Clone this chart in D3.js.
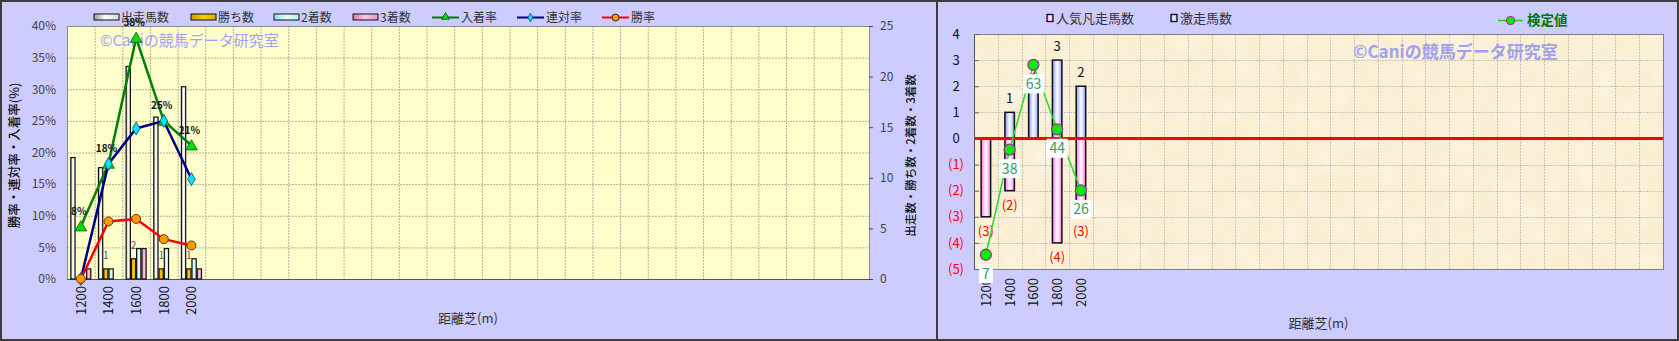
<!DOCTYPE html>
<html lang="ja">
<head>
<meta charset="UTF-8" />
<title>距離別成績</title>
<script src="https://cdnjs.cloudflare.com/ajax/libs/d3/7.8.5/d3.min.js"></script>
<style>
  body { margin: 0; background: #ccccff; }
  svg { display: block; font-family: "Noto Sans CJK JP", sans-serif; }
</style>
</head>
<body>
<svg id="svg"></svg>
<script>
  // ---- data (left chart) ----
  const distances = ["1200", "1400", "1600", "1800", "2000"];
  const slotCount = 29;

  const runners = [12, 11, 21, 16, 19];   // 出走馬数
  const wins = [0, 1, 2, 1, 1];           // 勝ち数
  const seconds = [0, 1, 3, 3, 2];        // 2着数
  const thirds = [1, 0, 3, 0, 1];         // 3着数

  const placeRate = [8.3, 18.2, 38.1, 25.0, 21.1];    // 入着率
  const quinellaRate = [0, 18.2, 23.8, 25.0, 15.8];   // 連対率
  const winRate = [0, 9.1, 9.5, 6.3, 5.3];            // 勝率
  const placeLabels = ["8%", "18%", "38%", "25%", "21%"];

  const pctTicks = [0, 5, 10, 15, 20, 25, 30, 35, 40];
  const countTicks = [0, 5, 10, 15, 20, 25];

  // ---- data (right chart) ----
  const upsetCounts = [0, 1, 2, 3, 2];      // 激走馬数
  const flopCounts = [3, 2, 0, 4, 3];       // 人気凡走馬数
  const testValues = [7, 38, 63, 44, 26];   // 検定値
  const rightTicks = [-5, -4, -3, -2, -1, 0, 1, 2, 3, 4];

  const W = 1679, H = 341;
  const svg = d3.select("#svg").attr("width", W).attr("height", H);
  const defs = svg.append("defs");

  function hGrad(id, stops) {
    const g = defs.append("linearGradient").attr("id", id)
      .attr("x1", "0%").attr("x2", "100%").attr("y1", "0%").attr("y2", "0%");
    stops.forEach(s => g.append("stop").attr("offset", s[0]).attr("stop-color", s[1]));
  }
  hGrad("gWhite", [["0%", "#9a9a9a"], ["45%", "#ffffff"], ["100%", "#d8d8d8"]]);
  hGrad("gGold", [["0%", "#c99a00"], ["50%", "#ffcc00"], ["100%", "#d9a800"]]);
  hGrad("gCyan", [["0%", "#9adede"], ["50%", "#e6ffff"], ["100%", "#b8eeee"]]);
  hGrad("gPink", [["0%", "#e070b0"], ["50%", "#ffc8e6"], ["100%", "#e890c4"]]);
  hGrad("gBlue", [["0%", "#7f97ff"], ["50%", "#ffffff"], ["100%", "#8ea6ff"]]);
  hGrad("gMag", [["0%", "#ff70f0"], ["50%", "#ffffff"], ["100%", "#ff80f0"]]);

  const paper = defs.append("filter").attr("id", "paper")
    .attr("x", 0).attr("y", 0).attr("width", "100%").attr("height", "100%");
  paper.append("feTurbulence").attr("type", "fractalNoise")
    .attr("baseFrequency", "0.04").attr("numOctaves", 3).attr("seed", 4);
  paper.append("feColorMatrix").attr("type", "matrix")
    .attr("values", "0 0 0 0 1  0 0 0 0 1  0 0 0 0 1  1.2 0 0 0 -0.5");
  paper.append("feComposite").attr("in2", "SourceGraphic").attr("operator", "in");

  // page background
  svg.append("rect").attr("width", W).attr("height", H).attr("fill", "#ccccff");

  // ================= LEFT CHART =================
  const L = { left: 67, right: 869, top: 26, bottom: 279 };
  const slots = d3.range(slotCount);
  const x0 = d3.scaleBand().domain(slots).range([L.left, L.right]);
  const bw = x0.bandwidth();
  const keys = ["runners", "wins", "seconds", "thirds"];
  const series = { runners, wins, seconds, thirds };
  const fills = { runners: "url(#gWhite)", wins: "url(#gGold)", seconds: "url(#gCyan)", thirds: "url(#gPink)" };
  const x1 = d3.scaleBand().domain(keys).range([0, bw]).paddingOuter(0.63);
  const yPct = d3.scaleLinear().domain([0, 40]).range([L.bottom, L.top]);
  const yCnt = d3.scaleLinear().domain([0, 25]).range([L.bottom, L.top]);

  const left = svg.append("g");
  left.append("rect")
    .attr("x", L.left).attr("y", L.top)
    .attr("width", L.right - L.left).attr("height", L.bottom - L.top)
    .attr("fill", "#ffffcc");

  left.append("g").selectAll("line").data(pctTicks.slice(1)).join("line")
    .attr("x1", L.left).attr("x2", L.right)
    .attr("y1", d => yPct(d) + 0.5).attr("y2", d => yPct(d) + 0.5)
    .attr("stroke", "#b0b0a0").attr("stroke-dasharray", "2,1");
  left.append("g").selectAll("line").data(slots.slice(1)).join("line")
    .attr("x1", d => x0(d) + 0.5).attr("x2", d => x0(d) + 0.5)
    .attr("y1", L.top).attr("y2", L.bottom)
    .attr("stroke", "#b0b0a0").attr("stroke-dasharray", "2,1");

  left.append("rect")
    .attr("x", L.left + 0.5).attr("y", L.top + 0.5)
    .attr("width", L.right - L.left).attr("height", L.bottom - L.top)
    .attr("fill", "none").attr("stroke", "#8c8c8c");
  left.append("line")
    .attr("x1", L.left).attr("x2", L.right).attr("y1", L.bottom + 0.5).attr("y2", L.bottom + 0.5)
    .attr("stroke", "#555");

  // watermark
  left.append("text").attr("x", 100).attr("y", 46)
    .attr("font-size", 15).attr("fill", "#a0a0ff")
    .text("©Caniの競馬データ研究室");

  // bars
  const barData = [];
  distances.forEach((d, i) => keys.forEach(k => {
    if (series[k][i] > 0) barData.push({ i, k, v: series[k][i] });
  }));
  left.append("g").selectAll("rect").data(barData).join("rect")
    .attr("x", d => x0(d.i) + x1(d.k) + 0.5)
    .attr("width", x1.bandwidth() - 1)
    .attr("y", d => yCnt(d.v))
    .attr("height", d => L.bottom - yCnt(d.v))
    .attr("fill", d => fills[d.k])
    .attr("stroke", "#111").attr("stroke-width", 1.2);

  // win count labels
  left.append("g").selectAll("text").data(wins.map((v, i) => ({ v, i })).filter(d => d.v > 0)).join("text")
    .attr("x", d => x0(d.i) + x1("wins") + x1.bandwidth() / 2)
    .attr("y", d => yCnt(d.v) - 10)
    .attr("text-anchor", "middle").attr("font-size", 10).attr("fill", "#555")
    .text(d => d.v);

  // lines
  const cx = i => x0(i) + bw / 2;
  const lineGen = d3.line().x((d, i) => cx(i)).y(d => yPct(d));
  left.append("path").datum(placeRate).attr("d", lineGen)
    .attr("fill", "none").attr("stroke", "#008000").attr("stroke-width", 2.5);
  left.append("path").datum(quinellaRate).attr("d", lineGen)
    .attr("fill", "none").attr("stroke", "#000080").attr("stroke-width", 2.5);
  left.append("path").datum(winRate).attr("d", lineGen)
    .attr("fill", "none").attr("stroke", "#ff0000").attr("stroke-width", 2.5);

  const tri = d3.symbol(d3.symbolTriangle).size(60);
  const dia = d3.symbol(d3.symbolDiamond).size(50);
  left.append("g").selectAll("path").data(placeRate).join("path")
    .attr("transform", (d, i) => `translate(${cx(i)},${yPct(d) + 1})`)
    .attr("d", tri).attr("fill", "#00dd00").attr("stroke", "#115511").attr("stroke-width", 0.8);
  left.append("g").selectAll("path").data(quinellaRate).join("path")
    .attr("transform", (d, i) => `translate(${cx(i)},${yPct(d)})`)
    .attr("d", dia).attr("fill", "#00e5ff").attr("stroke", "#224466").attr("stroke-width", 0.8);
  left.append("g").selectAll("circle").data(winRate).join("circle")
    .attr("cx", (d, i) => cx(i)).attr("cy", d => yPct(d)).attr("r", 4.5)
    .attr("fill", "#ff9900").attr("stroke", "#663300").attr("stroke-width", 1);

  left.append("g").selectAll("text").data(placeRate).join("text")
    .attr("x", (d, i) => cx(i) - 2).attr("y", d => yPct(d) - 12)
    .attr("text-anchor", "middle").attr("font-size", 10).attr("font-weight", "bold")
    .attr("fill", "#111").text((d, i) => placeLabels[i]);

  // axes
  const axL = left.append("g").attr("transform", `translate(${L.left},0)`)
    .call(d3.axisLeft(yPct).tickValues(pctTicks).tickSize(0).tickPadding(11).tickFormat(d => d + "%"));
  axL.select(".domain").remove();
  axL.selectAll("text").attr("font-size", 12).attr("fill", "#444").attr("font-family", "Noto Sans CJK JP");

  const axR = left.append("g").attr("transform", `translate(${L.right},0)`)
    .call(d3.axisRight(yCnt).tickValues(countTicks).tickSize(4).tickPadding(7));
  axR.select(".domain").remove();
  axR.selectAll("line").attr("stroke", "#444");
  axR.selectAll("text").attr("font-size", 12).attr("fill", "#444").attr("font-family", "Noto Sans CJK JP");

  left.append("g").selectAll("text").data(distances).join("text")
    .attr("transform", (d, i) => `translate(${cx(i) + 5},${L.bottom + 7}) rotate(-90)`)
    .attr("text-anchor", "end").attr("font-size", 13).attr("fill", "#111")
    .text(d => d);

  left.append("text")
    .attr("transform", `translate(19,${(L.top + L.bottom) / 2 + 3}) rotate(-90)`)
    .attr("text-anchor", "middle").attr("font-size", 12.5).attr("font-weight", 500).attr("fill", "#111")
    .text("勝率・連対率・入着率(%)");
  left.append("text")
    .attr("transform", `translate(915,${(L.top + L.bottom) / 2 + 3}) rotate(-90)`)
    .attr("text-anchor", "middle").attr("font-size", 11.5).attr("font-weight", 500).attr("fill", "#111")
    .text("出走数・勝ち数・2着数・3着数");
  left.append("text")
    .attr("x", (L.left + L.right) / 2).attr("y", 323)
    .attr("text-anchor", "middle").attr("font-size", 13).attr("fill", "#333")
    .text("距離芝(m)");

  // legend
  const legBars = [
    { name: "出走馬数", fill: "url(#gWhite)", x: 94 },
    { name: "勝ち数", fill: "url(#gGold)", x: 191 },
    { name: "2着数", fill: "url(#gCyan)", x: 274 },
    { name: "3着数", fill: "url(#gPink)", x: 353 }
  ];
  const lg = left.append("g");
  lg.selectAll("rect").data(legBars).join("rect")
    .attr("x", d => d.x).attr("y", 14).attr("width", 25).attr("height", 6)
    .attr("fill", d => d.fill).attr("stroke", "#111").attr("stroke-width", 1);
  lg.selectAll("text.bl").data(legBars).join("text").attr("class", "bl")
    .attr("x", d => d.x + 27).attr("y", 21.5).attr("font-size", 12).attr("fill", "#333")
    .text(d => d.name);

  const legLines = [
    { name: "入着率", color: "#008000", x: 432, mark: "tri" },
    { name: "連対率", color: "#000080", x: 517, mark: "dia" },
    { name: "勝率", color: "#ff0000", x: 602, mark: "circle" }
  ];
  legLines.forEach(d => {
    lg.append("line").attr("x1", d.x).attr("x2", d.x + 27).attr("y1", 17.5).attr("y2", 17.5)
      .attr("stroke", d.color).attr("stroke-width", 2);
    if (d.mark === "tri") {
      lg.append("path").attr("transform", `translate(${d.x + 13.5},17)`)
        .attr("d", d3.symbol(d3.symbolTriangle).size(26)).attr("fill", "#00dd00").attr("stroke", "#114411").attr("stroke-width", 0.8);
    } else if (d.mark === "dia") {
      lg.append("path").attr("transform", `translate(${d.x + 13.5},17.5)`)
        .attr("d", d3.symbol(d3.symbolDiamond).size(22)).attr("fill", "#00e5ff").attr("stroke", "#224466").attr("stroke-width", 0.8);
    } else {
      lg.append("circle").attr("cx", d.x + 13.5).attr("cy", 17.5).attr("r", 3.5)
        .attr("fill", "#ff9900").attr("stroke", "#442200").attr("stroke-width", 1);
    }
    lg.append("text").attr("x", d.x + 29).attr("y", 21.5).attr("font-size", 12).attr("fill", "#333").text(d.name);
  });

  // ================= RIGHT CHART =================
  const R = { left: 974, right: 1663, top: 34, bottom: 269 };
  const xr = d3.scaleBand().domain(slots).range([R.left, R.right]);
  const rbw = xr.bandwidth();
  const rcx = i => xr(i) + rbw / 2;
  const yr = d3.scaleLinear().domain([-5, 4]).range([R.bottom, R.top]);
  const yTest = d3.scaleLinear().domain([2.8, 72.1]).range([R.bottom, R.top]);

  const right = svg.append("g");
  right.append("rect")
    .attr("x", R.left).attr("y", R.top).attr("width", R.right - R.left).attr("height", R.bottom - R.top)
    .attr("fill", "#faefd2");
  right.append("rect")
    .attr("x", R.left).attr("y", R.top).attr("width", R.right - R.left).attr("height", R.bottom - R.top)
    .attr("fill", "#ffffff").attr("opacity", 0.55).attr("filter", "url(#paper)");

  right.append("g").selectAll("line").data(rightTicks.filter(t => t > -5 && t < 4)).join("line")
    .attr("x1", R.left).attr("x2", R.right)
    .attr("y1", d => Math.round(yr(d)) + 0.5).attr("y2", d => Math.round(yr(d)) + 0.5)
    .attr("stroke", "#c8c4bc").attr("stroke-dasharray", "2,1");
  right.append("g").selectAll("line").data(slots.slice(1)).join("line")
    .attr("x1", d => Math.round(xr(d)) + 0.5).attr("x2", d => Math.round(xr(d)) + 0.5)
    .attr("y1", R.top).attr("y2", R.bottom)
    .attr("stroke", "#c8c4bc").attr("stroke-dasharray", "2,1");
  right.append("rect")
    .attr("x", R.left + 0.5).attr("y", R.top + 0.5).attr("width", R.right - R.left).attr("height", R.bottom - R.top)
    .attr("fill", "none").attr("stroke", "#808080");
  right.append("line").attr("x1", R.left + 0.5).attr("x2", R.left + 0.5).attr("y1", R.top).attr("y2", R.bottom)
    .attr("stroke", "#555");

  right.append("text").attr("x", 1353).attr("y", 58)
    .attr("font-size", 17).attr("font-weight", "bold").attr("fill", "#a0a0f0")
    .text("©Caniの競馬データ研究室");

  // bars
  const rBarW = 9.5;
  right.append("g").selectAll("rect").data(flopCounts.map((v, i) => ({ v, i })).filter(d => d.v > 0)).join("rect")
    .attr("x", d => rcx(d.i) - rBarW / 2).attr("width", rBarW)
    .attr("y", yr(0)).attr("height", d => yr(-d.v) - yr(0))
    .attr("fill", "url(#gMag)").attr("stroke", "#111").attr("stroke-width", 1.5);
  right.append("g").selectAll("rect").data(upsetCounts.map((v, i) => ({ v, i })).filter(d => d.v > 0)).join("rect")
    .attr("x", d => rcx(d.i) - rBarW / 2).attr("width", rBarW)
    .attr("y", d => yr(d.v)).attr("height", d => yr(0) - yr(d.v))
    .attr("fill", "url(#gBlue)").attr("stroke", "#111").attr("stroke-width", 1.5);

  right.append("g").selectAll("text").data(upsetCounts.map((v, i) => ({ v, i })).filter(d => d.v > 0)).join("text")
    .attr("x", d => rcx(d.i)).attr("y", d => yr(d.v) - 9)
    .attr("text-anchor", "middle").attr("font-size", 13).attr("fill", "#111")
    .text(d => d.v);
  right.append("g").selectAll("text").data(flopCounts.map((v, i) => ({ v, i })).filter(d => d.v > 0)).join("text")
    .attr("x", d => rcx(d.i)).attr("y", d => yr(-d.v) + 19)
    .attr("text-anchor", "middle").attr("font-size", 13).attr("fill", "#ff0000")
    .text(d => `(${d.v})`);

  // zero line
  right.append("line").attr("x1", R.left).attr("x2", R.right).attr("y1", yr(0)).attr("y2", yr(0))
    .attr("stroke", "#ff0000").attr("stroke-width", 3);

  // x labels (drawn before test labels so boxes can cover them)
  right.append("g").selectAll("text").data(distances).join("text")
    .attr("transform", (d, i) => `translate(${rcx(i) + 5},${R.bottom + 9}) rotate(-90)`)
    .attr("text-anchor", "end").attr("font-size", 13).attr("fill", "#111")
    .text(d => d);

  // test value line
  const testLine = d3.line().x((d, i) => rcx(i)).y(d => yTest(d));
  right.append("path").datum(testValues).attr("d", testLine)
    .attr("fill", "none").attr("stroke", "#22dd22").attr("stroke-width", 1.5);
  right.append("g").selectAll("circle").data(testValues).join("circle")
    .attr("cx", (d, i) => rcx(i)).attr("cy", d => yTest(d)).attr("r", 5.5)
    .attr("fill", "#00ee00").attr("stroke", "#993399").attr("stroke-width", 1.3);

  const tl = right.append("g").selectAll("g").data(testValues).join("g")
    .attr("transform", (d, i) => `translate(${rcx(i)},${yTest(d) + 19})`);
  tl.append("rect").attr("x", d => String(d).length > 1 ? -10.5 : -7).attr("y", -9.5)
    .attr("width", d => String(d).length > 1 ? 21 : 14).attr("height", 19).attr("fill", "#ffffff");
  tl.append("text").attr("y", 5).attr("text-anchor", "middle")
    .attr("font-size", 14).attr("fill", "#2f9a6a").text(d => d);

  // y axis
  const axRL = right.append("g").attr("transform", `translate(${R.left},0)`)
    .call(d3.axisLeft(yr).tickValues(rightTicks).tickSizeInner(-5).tickSizeOuter(0).tickPadding(18)
      .tickFormat(d => d < 0 ? `(${-d})` : d));
  axRL.select(".domain").remove();
  axRL.selectAll("line").attr("stroke", "#666");
  axRL.selectAll("text").attr("text-anchor", "middle").attr("font-size", 13)
    .attr("font-family", "Noto Sans CJK JP")
    .attr("fill", d => d < 0 ? "#ff0000" : "#111");

  right.append("text")
    .attr("x", (R.left + R.right) / 2).attr("y", 328)
    .attr("text-anchor", "middle").attr("font-size", 13).attr("fill", "#333")
    .text("距離芝(m)");

  // legend
  const rLeg = [
    { name: "人気凡走馬数", fill: "url(#gMag)", x: 1047 },
    { name: "激走馬数", fill: "url(#gBlue)", x: 1171 }
  ];
  rLeg.forEach(d => {
    right.append("rect").attr("x", d.x).attr("y", 14.5).attr("width", 6).attr("height", 7)
      .attr("fill", d.fill).attr("stroke", "#111").attr("stroke-width", 1.3);
    right.append("text").attr("x", d.x + 9).attr("y", 23).attr("font-size", 13).attr("fill", "#333").text(d.name);
  });
  right.append("line").attr("x1", 1498).attr("x2", 1523).attr("y1", 20.5).attr("y2", 20.5)
    .attr("stroke", "#22cc22").attr("stroke-width", 1.5);
  right.append("circle").attr("cx", 1510.5).attr("cy", 20.5).attr("r", 4)
    .attr("fill", "#00ee00").attr("stroke", "#993399").attr("stroke-width", 1.2);
  right.append("text").attr("x", 1527).attr("y", 25).attr("font-size", 13.5).attr("font-weight", "bold")
    .attr("fill", "#007700").text("検定値");

  // frame and divider
  svg.append("rect").attr("x", 1).attr("y", 1).attr("width", W - 2).attr("height", H - 2)
    .attr("fill", "none").attr("stroke", "#3c3c3c").attr("stroke-width", 2);
  svg.append("line").attr("x1", 937).attr("x2", 937).attr("y1", 0).attr("y2", H)
    .attr("stroke", "#3c3c3c").attr("stroke-width", 2);
</script>
</body>
</html>
